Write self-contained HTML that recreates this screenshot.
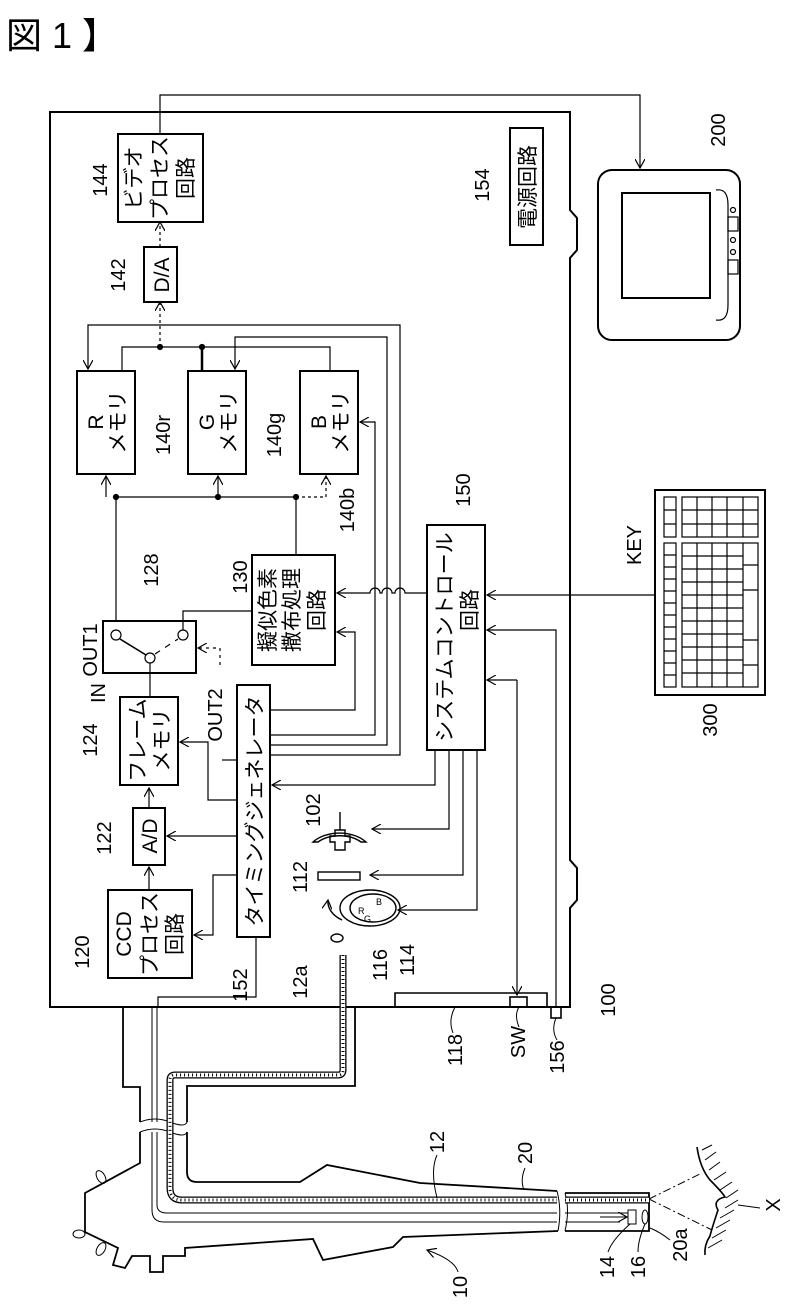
<!DOCTYPE html>
<html><head><meta charset="utf-8"><style>
html,body{margin:0;padding:0;background:#fff;overflow:hidden;}
svg{display:block;}
text{font-family:"Liberation Sans","Noto Sans CJK JP",sans-serif;fill:#000;}
</style></head><body>
<svg width="790" height="1309" viewBox="0 0 790 1309" xmlns="http://www.w3.org/2000/svg">
<defs>
<marker id="a" markerWidth="10" markerHeight="10" refX="9" refY="5" orient="auto" markerUnits="userSpaceOnUse"><path d="M0,0 L9,5 L0,10" fill="none" stroke="#000" stroke-width="1.2"/></marker>
</defs>
<text x="6" y="48" font-size="36" font-family="Noto Sans CJK JP,sans-serif">図 1 】</text>

<g fill="none" stroke="#000" stroke-width="2">
<path d="M50,112 H570 V210 L577,218 V250 L570,258 V860 L577,868 V900 L570,908 V1007 H50 Z"/>
<rect x="118" y="134" width="85" height="88"/>
<rect x="144" y="247" width="33" height="55"/>
<rect x="77" y="371" width="58" height="103"/>
<rect x="188" y="371" width="58" height="103"/>
<rect x="300" y="371" width="58" height="103"/>
<rect x="510" y="128" width="33" height="117"/>
<rect x="427" y="525" width="58" height="225"/>
<rect x="252" y="555" width="83" height="110"/>
<rect x="103" y="621" width="93" height="52"/>
<rect x="120" y="697" width="58" height="88"/>
<rect x="237" y="685" width="33" height="252"/>
<rect x="133" y="808" width="32" height="57"/>
<rect x="108" y="890" width="84" height="88"/>
<rect x="598" y="170" width="142" height="170" rx="14"/>
<rect x="622" y="193" width="88" height="105"/>
<rect x="655" y="490" width="110" height="205"/>
</g>
<g fill="none" stroke="#000" stroke-width="1.2">
<path d="M716,190 Q728,188 728,205 V305 Q728,322 716,320"/>
<circle cx="733" cy="210" r="2.5"/><circle cx="733" cy="240" r="2.5"/><circle cx="733" cy="252" r="2.5"/>
<rect x="728" y="217" width="10" height="14"/><rect x="728" y="260" width="10" height="14"/>
<rect x="664" y="497" width="12" height="40"/>
<rect x="664" y="543" width="12" height="144"/>
<rect x="682" y="497" width="76" height="40"/>
<rect x="682" y="543" width="76" height="144"/>
<path d="M664,510 H676 M664,524 H676 M682,510 H758 M682,524 H758 M697,497 V537 M712,497 V537 M727,497 V537 M743,497 V537"/>
<path d="M664,555 H676 M664,567 H676 M664,579 H676 M664,591 H676 M664,603 H676 M664,615 H676 M664,627 H676 M664,639 H676 M664,651 H676 M664,663 H676 M664,675 H676"/>
<path d="M697,543 V687 M712,543 V687 M727,543 V687 M743,543 V687 M682,556 H743 M682,569 H743 M682,582 H743 M682,595 H743 M682,608 H743 M682,621 H743 M682,634 H743 M682,647 H743 M682,660 H743 M682,673 H743 M743,565 H758 M743,590 H758 M743,640 H758 M743,665 H758"/>
<path d="M160,134 V95 H640 V168" marker-end="url(#a)"/>
<path d="M160,247 V222" stroke-dasharray="3,3" marker-end="url(#a)"/>
<path d="M160,347 V302" stroke-dasharray="3,3" marker-end="url(#a)"/>
<path d="M122,371 V347 H330 V371"/>
<path d="M202,347 V371" stroke-width="2.5"/>
<circle cx="160" cy="347" r="2.5" fill="#000"/><circle cx="202" cy="347" r="2.5" fill="#000"/>
<path d="M400,690 V325 H88 V369" marker-end="url(#a)"/>
<path d="M387,690 V337 H235 V369" marker-end="url(#a)"/>
<path d="M375,690 V422 H360" marker-end="url(#a)"/>
<path d="M116,621 V497 H296"/>
<path d="M106,497 V476" marker-end="url(#a)"/>
<path d="M218,497 V476" marker-end="url(#a)"/>
<path d="M296,497 H326 V476" stroke-dasharray="3,3" marker-end="url(#a)"/>
<path d="M296,497 V555"/>
<circle cx="116" cy="497" r="2.5" fill="#000"/><circle cx="218" cy="497" r="2.5" fill="#000"/><circle cx="296" cy="497" r="2.5" fill="#000"/>
<circle cx="116" cy="635" r="5"/><circle cx="150" cy="658" r="5"/><circle cx="183" cy="635" r="5"/>
<path d="M120,639 L146,655" stroke-width="1.6"/>
<path d="M155,654 L178,639" stroke-dasharray="6,6"/>
<path d="M183,630 V611 H252"/>
<path d="M150,697 V663"/>
<path d="M220,665 V648 H198" stroke-dasharray="3,4" marker-end="url(#a)"/>
<path d="M427,593 H405 A5,5 0 0 0 395,593 H392 A5,5 0 0 0 382,593 H380 A5,5 0 0 0 370,593 H337" marker-end="url(#a)"/>
<path d="M270,710 H355 V632 H337" marker-end="url(#a)"/>
<path d="M270,735 H375 V690"/>
<path d="M270,745 H387 V690"/>
<path d="M270,755 H400 V690"/>
<path d="M237,800 H208 V742 H180" marker-end="url(#a)"/>
<path d="M222,760 H237"/>
<path d="M237,836 H167" marker-end="url(#a)"/>
<path d="M237,875 H213 V935 H194" marker-end="url(#a)"/>
<path d="M149,808 V788" marker-end="url(#a)"/>
<path d="M149,890 V867" marker-end="url(#a)"/>
<path d="M256,937 V997 H158 V1007"/>
<path d="M435,750 V785 H272" marker-end="url(#a)"/>
<path d="M449,750 V829 H372" marker-end="url(#a)"/>
<path d="M463,750 V875 H370" marker-end="url(#a)"/>
<path d="M477,750 V910 H398" marker-end="url(#a)"/>
<path d="M655,595 H487" marker-end="url(#a)"/>
<path d="M556,1007 V630 H487" marker-end="url(#a)"/>
<path d="M517,680 H487" marker-end="url(#a)"/>
<path d="M517,680 V995" marker-end="url(#a)"/>
</g>
<g fill="none" stroke="#000" stroke-width="1.4">
<path d="M313,842 A34,24 0 0 1 366,842 L361,842 A29,19 0 0 0 318,842 Z"/>
<path d="M340,812 V830"/>
<path d="M335,830 H345 V836 H350 V842 H345 V850 H335 V842 H330 V836 H335 Z"/>
<rect x="318" y="872" width="42" height="8"/>
<ellipse cx="370" cy="908" rx="30" ry="18"/>
<ellipse cx="373" cy="908" rx="23" ry="14"/>
<path d="M342,920 A32,22 0 0 1 328,900" marker-end="url(#a)"/>
<ellipse cx="337" cy="938" rx="6" ry="4"/>
</g>
<text x="358" y="914" font-size="9">R</text><text x="376" y="905" font-size="9">B</text><text x="364" y="922" font-size="9">G</text>

<g fill="none" stroke="#000" stroke-width="1.6">
<path d="M395,1007 V993 H547 V1007"/>
<rect x="510" y="997" width="17" height="10"/>
<rect x="551" y="1007" width="10" height="11"/>
</g>
<g fill="none" stroke="#000" stroke-width="1.8">
<path d="M123,1007 V1087 H140 V1122"/>
<path d="M355,1007 V1086 H187 V1122"/>
<path d="M140,1132 V1163 L85,1193 V1232 L118,1248 L113,1265 L125,1268 L132,1256 H150 V1272 H163 V1256 H185 V1248 L313,1239 L323,1260 L393,1247 L403,1237 L558,1231"/>
<path d="M187,1132 V1172 Q187,1182 197,1182 H300 L327,1165 L420,1183 L557,1191"/>
<path d="M565,1193 H649 V1231 H565"/>
<path d="M557,1191 Q562,1210 558,1231 M565,1193 Q570,1210 565,1231" stroke-width="1"/>
<path d="M140,1122 Q155,1116 170,1122 T187,1122 M140,1132 Q155,1126 170,1132 T187,1132" stroke-width="1"/>
</g>
<g fill="none" stroke="#000" stroke-width="1">
<ellipse cx="101" cy="1177" rx="4" ry="7" transform="rotate(-30 101 1177)"/>
<ellipse cx="79" cy="1234" rx="6" ry="4"/>
<ellipse cx="101" cy="1249" rx="4" ry="7" transform="rotate(30 101 1249)"/>
<path d="M152,1007 V1122 M152,1132 V1210 Q152,1222 164,1222 H557 M565,1222 H620"/>
<path d="M157,1007 V1122 M157,1132 V1205 Q157,1213 167,1213 H557 M565,1213 H628" />
<path d="M600,1217 H627" marker-end="url(#a)"/>
<rect x="628" y="1210" width="8" height="14"/>
<ellipse cx="645" cy="1217" rx="3" ry="7"/>
<path d="M649,1199 L702,1173 M649,1199 L712,1230" stroke-dasharray="8,3,2,3"/>
<path d="M697,1147 Q700,1168 710,1180 Q722,1192 725,1197 Q712,1200 718,1210 Q712,1228 710,1236 Q704,1245 705,1255" stroke-width="1.6"/>
<path d="M702,1150 L712,1145 M705,1160 L716,1152 M709,1170 L720,1162 M714,1180 L726,1172 M720,1190 L732,1182 M726,1198 L738,1190 M725,1208 L738,1200 M720,1218 L734,1210 M716,1228 L730,1220 M712,1238 L726,1230 M708,1248 L722,1240"/>
<path d="M738,1205 L760,1208"/>
</g>
<g fill="none">
<path d="M343,955 V1070 Q343,1075 338,1075 H175 Q170,1075 170,1080 V1188 Q170,1200 182,1200 H557 M565,1200 H649" stroke="#000" stroke-width="7"/>
<path d="M343,955 V1070 Q343,1075 338,1075 H175 Q170,1075 170,1080 V1188 Q170,1200 182,1200 H557 M565,1200 H649" stroke="#fff" stroke-width="4.4"/>
<path d="M343,955 V1070 Q343,1075 338,1075 H175 Q170,1075 170,1080 V1188 Q170,1200 182,1200 H557 M565,1200 H649" stroke="#000" stroke-width="3" stroke-dasharray="1,3"/>
</g>
<g fill="none" stroke="#000" stroke-width="1">
<path d="M453,1033 Q448,1020 455,1007"/>
<path d="M519,1027 Q514,1015 519,1007"/>
<path d="M557,1040 Q551,1030 556,1018"/>
<path d="M437,1155 Q430,1170 437,1198"/>
<path d="M525,1168 Q520,1180 524,1190"/>
<path d="M458,1272 Q455,1260 427,1250" marker-end="url(#a)"/>
<path d="M608,1252 Q612,1240 630,1224"/>
<path d="M638,1252 Q638,1240 645,1224"/>
<path d="M670,1240 Q660,1232 650,1228"/>
</g>
<g font-size="21">
<g transform="translate(134,178) rotate(-90)"><text text-anchor="middle" y="7">ビデオ</text></g>
<g transform="translate(160,178) rotate(-90)"><text text-anchor="middle" y="7">プロセス</text></g>
<g transform="translate(186,178) rotate(-90)"><text text-anchor="middle" y="7">回路</text></g>
<g transform="translate(161,275) rotate(-90)"><text text-anchor="middle" y="8">D/A</text></g>
<g transform="translate(96,422) rotate(-90)"><text text-anchor="middle" y="7">R</text></g>
<g transform="translate(118,422) rotate(-90)"><text text-anchor="middle" y="7">メモリ</text></g>
<g transform="translate(207,422) rotate(-90)"><text text-anchor="middle" y="7">G</text></g>
<g transform="translate(229,422) rotate(-90)"><text text-anchor="middle" y="7">メモリ</text></g>
<g transform="translate(319,422) rotate(-90)"><text text-anchor="middle" y="7">B</text></g>
<g transform="translate(341,422) rotate(-90)"><text text-anchor="middle" y="7">メモリ</text></g>
<g transform="translate(527,187) rotate(-90)"><text text-anchor="middle" y="8">電源回路</text></g>
<g transform="translate(445,637) rotate(-90)"><text text-anchor="middle" y="7">システムコントロール</text></g>
<g transform="translate(470,610) rotate(-90)"><text text-anchor="middle" y="7">回路</text></g>
<g transform="translate(268,610) rotate(-90)"><text text-anchor="middle" y="7">擬似色素</text></g>
<g transform="translate(292,610) rotate(-90)"><text text-anchor="middle" y="7">撒布処理</text></g>
<g transform="translate(317,610) rotate(-90)"><text text-anchor="middle" y="7">回路</text></g>
<g transform="translate(138,740) rotate(-90)"><text text-anchor="middle" y="7">フレーム</text></g>
<g transform="translate(162,740) rotate(-90)"><text text-anchor="middle" y="7">メモリ</text></g>
<g transform="translate(254,811) rotate(-90)"><text text-anchor="middle" y="8">タイミングジェネレータ</text></g>
<g transform="translate(149,836) rotate(-90)"><text text-anchor="middle" y="8">A/D</text></g>
<g transform="translate(124,934) rotate(-90)"><text text-anchor="middle" y="7">CCD</text></g>
<g transform="translate(150,934) rotate(-90)"><text text-anchor="middle" y="7">プロセス</text></g>
<g transform="translate(175,934) rotate(-90)"><text text-anchor="middle" y="7">回路</text></g>
</g>
<g font-size="20">
<g transform="translate(100,180) rotate(-90)"><text text-anchor="middle" y="7">144</text></g>
<g transform="translate(118,275) rotate(-90)"><text text-anchor="middle" y="7">142</text></g>
<g transform="translate(163,435) rotate(-90)"><text text-anchor="middle" y="7">140r</text></g>
<g transform="translate(274,435) rotate(-90)"><text text-anchor="middle" y="7">140g</text></g>
<g transform="translate(347,510) rotate(-90)"><text text-anchor="middle" y="7">140b</text></g>
<g transform="translate(463,490) rotate(-90)"><text text-anchor="middle" y="7">150</text></g>
<g transform="translate(482,185) rotate(-90)"><text text-anchor="middle" y="7">154</text></g>
<g transform="translate(718,130) rotate(-90)"><text text-anchor="middle" y="7">200</text></g>
<g transform="translate(634,545) rotate(-90)"><text text-anchor="middle" y="7">KEY</text></g>
<g transform="translate(710,720) rotate(-90)"><text text-anchor="middle" y="7">300</text></g>
<g transform="translate(240,577) rotate(-90)"><text text-anchor="middle" y="7">130</text></g>
<g transform="translate(151,570) rotate(-90)"><text text-anchor="middle" y="7">128</text></g>
<g transform="translate(90,650) rotate(-90)"><text text-anchor="middle" y="7">OUT1</text></g>
<g transform="translate(98,693) rotate(-90)"><text text-anchor="middle" y="7">IN</text></g>
<g transform="translate(215,715) rotate(-90)"><text text-anchor="middle" y="7">OUT2</text></g>
<g transform="translate(90,740) rotate(-90)"><text text-anchor="middle" y="7">124</text></g>
<g transform="translate(104,838) rotate(-90)"><text text-anchor="middle" y="7">122</text></g>
<g transform="translate(313,810) rotate(-90)"><text text-anchor="middle" y="7">102</text></g>
<g transform="translate(300,877) rotate(-90)"><text text-anchor="middle" y="7">112</text></g>
<g transform="translate(82,952) rotate(-90)"><text text-anchor="middle" y="7">120</text></g>
<g transform="translate(240,985) rotate(-90)"><text text-anchor="middle" y="7">152</text></g>
<g transform="translate(300,982) rotate(-90)"><text text-anchor="middle" y="7">12a</text></g>
<g transform="translate(380,965) rotate(-90)"><text text-anchor="middle" y="7">116</text></g>
<g transform="translate(407,960) rotate(-90)"><text text-anchor="middle" y="7">114</text></g>
<g transform="translate(608,1000) rotate(-90)"><text text-anchor="middle" y="7">100</text></g>
<g transform="translate(455,1050) rotate(-90)"><text text-anchor="middle" y="7">118</text></g>
<g transform="translate(518,1042) rotate(-90)"><text text-anchor="middle" y="7">SW</text></g>
<g transform="translate(557,1057) rotate(-90)"><text text-anchor="middle" y="7">156</text></g>
<g transform="translate(437,1142) rotate(-90)"><text text-anchor="middle" y="7">12</text></g>
<g transform="translate(525,1153) rotate(-90)"><text text-anchor="middle" y="7">20</text></g>
<g transform="translate(460,1287) rotate(-90)"><text text-anchor="middle" y="7">10</text></g>
<g transform="translate(607,1267) rotate(-90)"><text text-anchor="middle" y="7">14</text></g>
<g transform="translate(638,1267) rotate(-90)"><text text-anchor="middle" y="7">16</text></g>
<g transform="translate(680,1245) rotate(-90)"><text text-anchor="middle" y="7">20a</text></g>
<g transform="translate(773,1205) rotate(-90)"><text text-anchor="middle" y="7">X</text></g>
</g>
</svg>
</body></html>
